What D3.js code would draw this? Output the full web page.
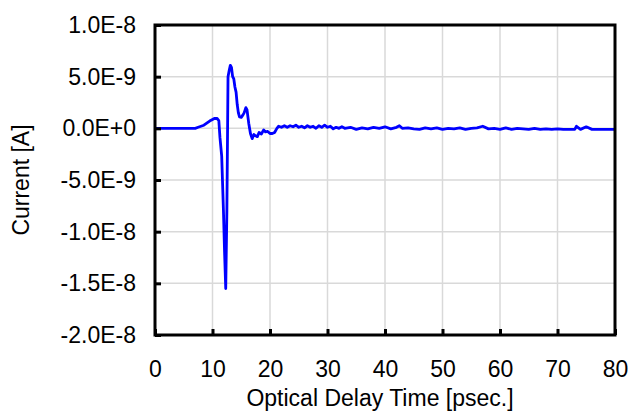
<!DOCTYPE html>
<html>
<head>
<meta charset="utf-8">
<script src="https://cdn.jsdelivr.net/npm/d3@7"></script>
<style>
  body { margin: 0; background: #fff; }
  text { font-family: "Liberation Sans", Arial, sans-serif; fill: #000; }
</style>
</head>
<body>
<svg width="630" height="414"></svg>
<script>
// delay time in ps
var times = [0, 3, 7.0, 7.5, 8.0, 8.5, 9.0, 9.5, 10.0, 10.4, 10.8, 11.1, 11.3, 11.6, 11.9, 12.1, 12.3,
  12.5, 12.7, 12.9, 13.1, 13.3, 13.5, 13.7, 13.9, 14.1, 14.3, 14.5, 14.7, 15.0, 15.3, 15.5, 15.8,
  16.0, 16.3, 16.6, 16.9, 17.2, 17.4, 17.8, 18.1, 18.5, 18.9, 19.2, 19.6, 20.0, 20.4, 20.8, 21.2,
  21.5, 22.0, 22.5, 23, 23.5, 24, 24.5, 25, 25.5, 26, 26.5, 27, 27.5, 28, 28.5, 29, 29.5, 30,
  30.5, 31, 31.5, 32, 32.5, 33, 34, 35, 36, 37, 38, 39, 40, 41, 42, 42.5, 43, 44, 45, 46, 47,
  48, 49, 50, 51, 52, 53, 54, 55, 56, 57, 58, 59, 60, 61, 62, 63, 64, 65, 66, 67, 68, 69, 70,
  71, 72, 73, 73.3, 74, 75, 76, 77, 78, 79, 80];

// current in units of 1E-9 A
var current = [0, 0, 0, 0.1, 0.2, 0.3, 0.5, 0.7, 0.85, 0.97, 0.95, 0.75, -0.9, -2.7, -7.9, -12.0, -15.5,
  -8.0, 5.0, 5.6, 6.1, 5.9, 5.0, 4.8, 4.0, 3.5, 2.3, 1.5, 1.1, 1.06, 1.3, 1.5, 2.0,
  1.8, 0.5, -0.5, -1.0, -0.6, -0.7, -0.8, -0.4, -0.55, -0.15, -0.35, -0.3, -0.5, -0.5, -0.4, 0.0,
  0.2, 0.1, 0.25, 0.1, 0.25, 0.15, 0.3, 0.1, 0.2, 0.05, 0.25, 0.1, 0.2, 0.0, 0.25, 0.1, 0.3, 0.1,
  0.2, -0.05, 0.1, 0.0, 0.15, 0.0, 0.1, -0.1, 0.05, -0.05, 0.1, 0.0, 0.15, -0.05, 0.1, 0.25, 0.0, 0.05, -0.05, -0.1, 0.05,
  -0.05, 0.05, -0.1, 0.0, -0.05, 0.05, -0.1, 0.0, 0.05, 0.2, -0.05, 0.0, -0.1, 0.05, -0.1, 0.0, -0.05, -0.1, 0.0, -0.1, -0.05, -0.1, -0.05,
  -0.1, -0.1, -0.1, 0.2, -0.1, 0.15, -0.1, -0.1, -0.1, -0.1, -0.1];

var xTicks = [0, 10, 20, 30, 40, 50, 60, 70, 80];
var yTicks = [1e-8, 5e-9, 0, -5e-9, -1e-8, -1.5e-8, -2e-8];
var yTickLabels = ["1.0E-8", "5.0E-9", "0.0E+0", "-5.0E-9", "-1.0E-8", "-1.5E-8", "-2.0E-8"];

var data = times.map(function(t, i) {
  return { t: t, v: current[i] * 1e-9 };
});

var svg = d3.select("svg"),
  margin = { top: 25, right: 15, bottom: 79, left: 155 },
  fontSize = 23;

var width = 630 - margin.left - margin.right,
  height = 414 - margin.top - margin.bottom;

var g = svg.append("g")
  .attr("transform", "translate(" + margin.left + "," + margin.top + ")");

var x = d3.scaleLinear().domain([0, 80]).range([0, width]);
var y = d3.scaleLinear().domain([-2e-8, 1e-8]).range([height, 0]);

// grid
g.selectAll(".gx")
  .data(xTicks.slice(1, -1))
  .enter().append("line")
  .attr("x1", function(d) { return x(d); })
  .attr("x2", function(d) { return x(d); })
  .attr("y1", 0).attr("y2", height)
  .attr("stroke", "#d9d9d9").attr("stroke-width", 1.5);

g.selectAll(".gy")
  .data(yTicks.slice(1, -1))
  .enter().append("line")
  .attr("x1", 0).attr("x2", width)
  .attr("y1", function(d) { return y(d); })
  .attr("y2", function(d) { return y(d); })
  .attr("stroke", "#d9d9d9").attr("stroke-width", 1.5);

// the trace
var line = d3.line()
  .x(function(d) { return x(d.t); })
  .y(function(d) { return y(d.v); });

g.append("path")
  .datum(data)
  .attr("fill", "none")
  .attr("stroke", "#0000ff")
  .attr("stroke-width", 2.8)
  .attr("stroke-linejoin", "round")
  .attr("d", line);

// frame
g.append("rect")
  .attr("width", width).attr("height", height)
  .attr("fill", "none").attr("stroke", "#000").attr("stroke-width", 3);

// axes with inward ticks
var xAxis = d3.axisBottom(x)
  .tickValues(xTicks)
  .tickSize(-6)
  .tickSizeOuter(0)
  .tickPadding(26);

var gx = g.append("g")
  .attr("transform", "translate(0," + height + ")")
  .call(xAxis);
gx.select(".domain").remove();
gx.selectAll(".tick line").attr("stroke", "#000").attr("stroke-width", 3);
gx.selectAll(".tick text").attr("font-size", fontSize).attr("font-family", "Liberation Sans, Arial, sans-serif");

var yAxis = d3.axisLeft(y)
  .tickValues(yTicks)
  .tickFormat(function(d, i) { return yTickLabels[i]; })
  .tickSize(-6)
  .tickSizeOuter(0)
  .tickPadding(19);

var gy = g.append("g").call(yAxis);
gy.select(".domain").remove();
gy.selectAll(".tick line").attr("stroke", "#000").attr("stroke-width", 3);
gy.selectAll(".tick text").attr("font-size", fontSize).attr("font-family", "Liberation Sans, Arial, sans-serif");

// axis titles
svg.append("text")
  .attr("x", 380)
  .attr("y", 406)
  .attr("text-anchor", "middle")
  .attr("font-size", fontSize)
  .text("Optical Delay Time [psec.]");

svg.append("text")
  .attr("transform", "translate(29," + (margin.top + height / 2) + ") rotate(-90)")
  .attr("text-anchor", "middle")
  .attr("font-size", fontSize)
  .text("Current [A]");
</script>
</body>
</html>
